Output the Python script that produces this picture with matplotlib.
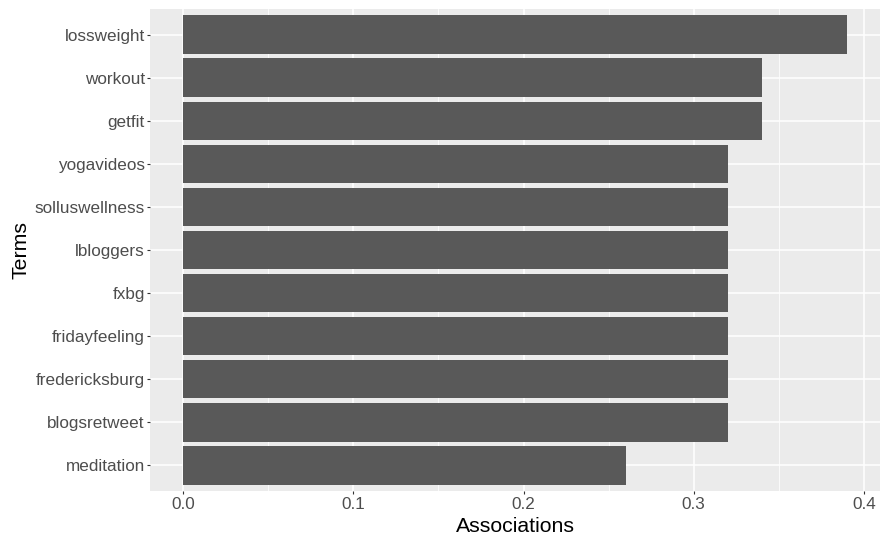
import matplotlib
matplotlib.use("Agg")
import matplotlib.pyplot as plt
import numpy as np

plt.rcParams['font.family'] = ['Liberation Sans', 'DejaVu Sans']

terms = ["lossweight", "workout", "getfit", "yogavideos", "solluswellness",
         "lbloggers", "fxbg", "fridayfeeling", "fredericksburg",
         "blogsretweet", "meditation"]
associations = [0.39, 0.34, 0.34, 0.32, 0.32, 0.32, 0.32, 0.32, 0.32, 0.32, 0.26]
x_ticks = [0.0, 0.1, 0.2, 0.3, 0.4]
x_tick_labels = ["0.0", "0.1", "0.2", "0.3", "0.4"]

W, H = 881, 537
fig = plt.figure(figsize=(W / 100, H / 100), dpi=100)
ax = fig.add_axes([150 / W, 1 - 491 / H, 730 / W, 482 / H])

n = len(terms)
ypos = np.arange(n)[::-1] + 1  # first term on top

ax.set_facecolor("#EBEBEB")
ax.barh(ypos, associations, height=0.9, color="#595959", zorder=3)

xmax = max(associations)
pad = 0.05 * xmax
ax.set_xlim(-pad, xmax + pad)
ax.set_ylim(0.4, n + 0.6)

ax.set_xticks(x_ticks)
ax.set_xticklabels(x_tick_labels)
ax.set_xticks([0.05, 0.15, 0.25, 0.35], minor=True)
ax.set_yticks(ypos)
ax.set_yticklabels(terms)

ax.grid(which="major", color="white", linewidth=1.1, zorder=1)
ax.grid(which="minor", axis="x", color="white", linewidth=0.55, zorder=1)
ax.set_axisbelow(True)

for s in ax.spines.values():
    s.set_visible(False)

ax.tick_params(axis="both", which="major", length=2.3, width=0.8,
               color="#333333", labelcolor="#4D4D4D", labelsize=12.3, pad=1.5)
ax.tick_params(axis="x", which="major", pad=2.3)
ax.tick_params(axis="both", which="minor", length=0)

ax.set_xlabel("Associations", fontsize=15.3, color="black", labelpad=3.2)
ax.set_ylabel("Terms", fontsize=15.3, color="black", labelpad=3)

fig.savefig("out.png", dpi=100, facecolor="white")
